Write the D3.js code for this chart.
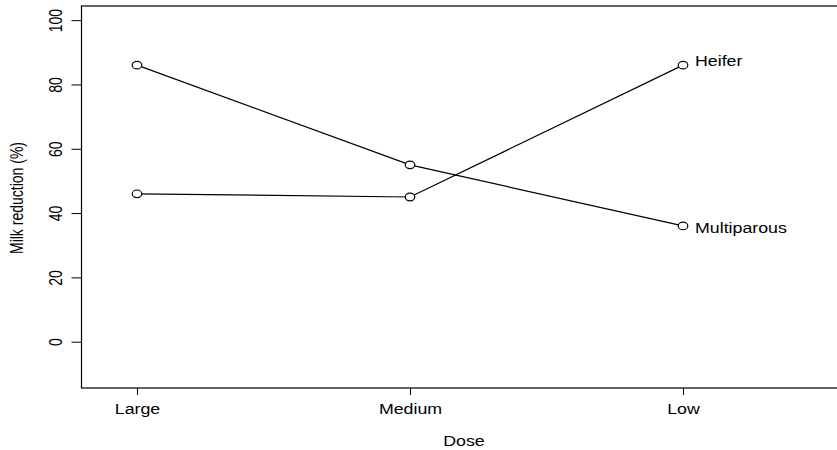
<!DOCTYPE html>
<html>
<head>
<meta charset="utf-8">
<script src="https://cdn.jsdelivr.net/npm/d3@7"></script>
<style>
  html, body { margin: 0; padding: 0; background: #fff; }
  svg { display: block; font-family: "Liberation Sans", Arial, Helvetica, sans-serif; }
</style>
</head>
<body>
<svg id="chart" width="837" height="450"></svg>
<script>
// Dose levels on the x axis
const doses = ["Large", "Medium", "Low"];
// Milk reduction (%) per dose level for each cow group
const heifer = [46, 45, 86];
const multiparous = [86, 55, 36];
const seriesNames = ["Heifer", "Multiparous"];
// y axis tick values
const yTicks = [0, 20, 40, 60, 80, 100];

const W = 837, H = 450;
const sx = 1.27;            // horizontal stretch of glyphs and markers
const svg = d3.select("#chart");

const plot = { left: 81.5, top: 6, bottom: 388, right: 1560 };

const x = d3.scaleLinear().domain([1, 3]).range([137, 683]);
const y = d3.scaleLinear().domain([-14.4, 104.4]).range([plot.bottom, plot.top]);

const ink = "#000";

// plot frame (right edge falls outside the view)
svg.append("rect")
  .attr("x", plot.left).attr("y", plot.top)
  .attr("width", plot.right - plot.left).attr("height", plot.bottom - plot.top)
  .attr("fill", "none").attr("stroke", ink).attr("stroke-width", 1.2);

// y axis
const yAxis = svg.append("g").attr("transform", `translate(${plot.left},0)`)
  .call(d3.axisLeft(y).tickValues(yTicks).tickSize(10).tickFormat(d3.format("d")));
yAxis.select(".domain").remove();
yAxis.selectAll(".tick line").attr("stroke", ink).attr("stroke-width", 1);
yAxis.selectAll(".tick text")
  .attr("x", null).attr("dy", null)
  .attr("text-anchor", "middle")
  .attr("font-size", 14)
  .attr("fill", ink)
  .attr("transform", `translate(-20,0) scale(${sx},1) rotate(-90)`);

// x axis
const xAxis = svg.append("g").attr("transform", `translate(0,${plot.bottom})`)
  .call(d3.axisBottom(x).tickValues([1, 2, 3]).tickSize(7).tickFormat((d) => doses[d - 1]));
xAxis.select(".domain").remove();
xAxis.selectAll(".tick line").attr("stroke", ink).attr("stroke-width", 1);
xAxis.selectAll(".tick text")
  .attr("y", null).attr("dy", null)
  .attr("font-size", 14)
  .attr("fill", ink)
  .attr("transform", `translate(0,26) scale(${sx},1)`);
svg.selectAll(".tick text").attr("font-family", null);
svg.selectAll("g").attr("font-family", null);

// axis titles
svg.append("text")
  .attr("transform", `translate(464,446) scale(${sx},1)`)
  .attr("text-anchor", "middle").attr("font-size", 14).attr("fill", ink)
  .text("Dose");
svg.append("text")
  .attr("transform", `translate(23,198) scale(${sx},1) rotate(-90)`)
  .attr("text-anchor", "middle").attr("font-size", 14).attr("fill", ink)
  .text("Milk reduction (%)");

// series lines with open circle markers
const line = d3.line().x((d, i) => x(i + 1)).y((d) => y(d));
const series = [heifer, multiparous];
const labelNudge = [-4, 2];
series.forEach((vals, k) => {
  svg.append("path")
    .attr("d", line(vals))
    .attr("fill", "none").attr("stroke", ink).attr("stroke-width", 1.2);
  svg.selectAll(null).data(vals).enter().append("ellipse")
    .attr("cx", (d, i) => x(i + 1)).attr("cy", (d) => y(d))
    .attr("rx", 4.8).attr("ry", 3.8)
    .attr("fill", "#fff").attr("stroke", ink).attr("stroke-width", 1.2);
  const last = vals.length - 1;
  svg.append("text")
    .attr("transform", `translate(${x(last + 1) + 12},${y(vals[last]) + labelNudge[k]}) scale(${sx},1)`)
    .attr("dominant-baseline", "central")
    .attr("font-size", 14).attr("fill", ink)
    .text(seriesNames[k]);
});
</script>
</body>
</html>
